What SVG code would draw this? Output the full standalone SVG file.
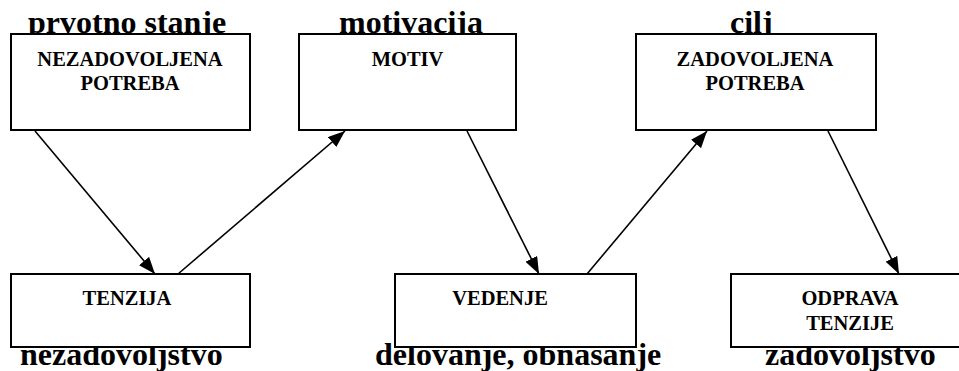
<svg xmlns="http://www.w3.org/2000/svg" width="959" height="371" viewBox="0 0 959 371" font-family="'Liberation Serif', 'Times New Roman', 'DejaVu Serif', serif">
<style>
text{font-family:'Liberation Serif','Times New Roman','DejaVu Serif',serif;font-weight:bold;fill:#000}
.lbl{font-size:32px}
.box{fill:#fff;stroke:#000;stroke-width:2}
.t{font-size:20.5px;text-anchor:middle}
.c{stroke:#000;stroke-width:1.6;fill:none;marker-end:url(#ah)}
</style>
<defs>
<marker id="ah" markerUnits="userSpaceOnUse" markerWidth="17" markerHeight="13" refX="17" refY="6.5" orient="auto">
<path d="M0,0 L17,6.5 L0,13 z" fill="#000"/>
</marker>
</defs>
<rect width="959" height="371" fill="#fff"/>
<g id="labels">
<text class="lbl" x="28" y="33">prvotno stanje</text>
<text class="lbl" x="339" y="33">motivacija</text>
<text class="lbl" x="730" y="33">cilj</text>
<text class="lbl" x="20" y="365">nezadovoljstvo</text>
<text class="lbl" x="375" y="365">delovanje, obnašanje</text>
<text class="lbl" x="765" y="365">zadovoljstvo</text>
</g>
<g id="connectors">
<line class="c" x1="35" y1="131" x2="155" y2="274"/>
<line class="c" x1="178" y1="274" x2="345" y2="131"/>
<line class="c" x1="467" y1="131" x2="539" y2="274"/>
<line class="c" x1="587" y1="274" x2="707" y2="131"/>
<line class="c" x1="828" y1="131" x2="899" y2="274"/>
</g>
<g id="nezadovoljena">
<rect class="box" x="11" y="34" width="239" height="96"/>
<text class="t" x="130" y="66">NEZADOVOLJENA</text>
<text class="t" x="130" y="90">POTREBA</text>
</g>
<g id="motiv">
<rect class="box" x="299" y="34" width="217" height="96"/>
<text class="t" x="407.5" y="66">MOTIV</text>
</g>
<g id="zadovoljena">
<rect class="box" x="636" y="34" width="240" height="96"/>
<text class="t" x="755" y="66">ZADOVOLJENA</text>
<text class="t" x="755" y="90">POTREBA</text>
</g>
<g id="tenzija">
<rect class="box" x="11" y="274" width="239" height="73"/>
<text class="t" x="127" y="305">TENZIJA</text>
</g>
<g id="vedenje">
<rect class="box" x="395" y="274" width="241" height="73"/>
<text class="t" x="500" y="305">VEDENJE</text>
</g>
<g id="odprava">
<rect class="box" x="731" y="274" width="240" height="73"/>
<text class="t" x="850" y="305">ODPRAVA</text>
<text class="t" x="850" y="330">TENZIJE</text>
</g>
</svg>
